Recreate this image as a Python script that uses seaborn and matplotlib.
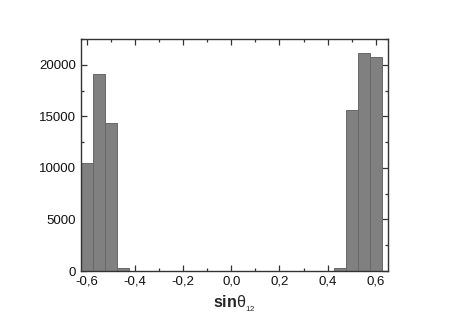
import numpy as np
import pandas as pd
import matplotlib
matplotlib.use("Agg")
import matplotlib.pyplot as plt
import seaborn as sns
from matplotlib.ticker import MultipleLocator, FuncFormatter

# bin centres and counts
bin_centers = [-0.60, -0.55, -0.50, -0.45, 0.45, 0.50, 0.55, 0.60]
counts = [10500, 19100, 14400, 300, 300, 15600, 21100, 20800]
bin_edges = list(np.round(np.arange(-0.625, 0.6251, 0.05), 3))

df = pd.DataFrame({"sin": bin_centers, "n": counts})

sns.set_style("ticks")
plt.rcParams["font.family"] = ["Liberation Sans", "DejaVu Sans"]
plt.rcParams["mathtext.fontset"] = "custom"
plt.rcParams["mathtext.rm"] = "Liberation Sans"
plt.rcParams["mathtext.it"] = "Liberation Sans"

fig = plt.figure(figsize=(4.52, 3.25), dpi=100)
ax = fig.add_axes([0.179, 0.166, 0.679, 0.714])

sns.histplot(data=df, x="sin", weights="n", bins=bin_edges, ax=ax,
             color="#808080", alpha=1, edgecolor="#686868", linewidth=0.7)

ax.set_xlim(-0.625, 0.65)
ax.set_ylim(0, 22500)
ax.xaxis.set_major_locator(MultipleLocator(0.2))
ax.xaxis.set_minor_locator(MultipleLocator(0.1))
ax.yaxis.set_major_locator(MultipleLocator(5000))
ax.yaxis.set_minor_locator(MultipleLocator(2500))
ax.xaxis.set_major_formatter(FuncFormatter(lambda v, p: ("%.1f" % v).replace(".", ",").replace("-0,0", "0,0")))
ax.tick_params(which="both", direction="in", top=True, right=True,
               labelsize=9.5, color="#333333", width=0.9, labelcolor="#111111")
ax.tick_params(which="major", length=4)
ax.tick_params(which="minor", length=2)
for s in ax.spines.values():
    s.set_linewidth(1.0)
    s.set_color("#333333")

ax.set_ylabel("")
ax.set_xlabel(r"sin$\mathrm{\theta}_{_{\mathrm{12}}}$", fontsize=11.5, fontweight="bold")

fig.savefig("out.png", dpi=100)
